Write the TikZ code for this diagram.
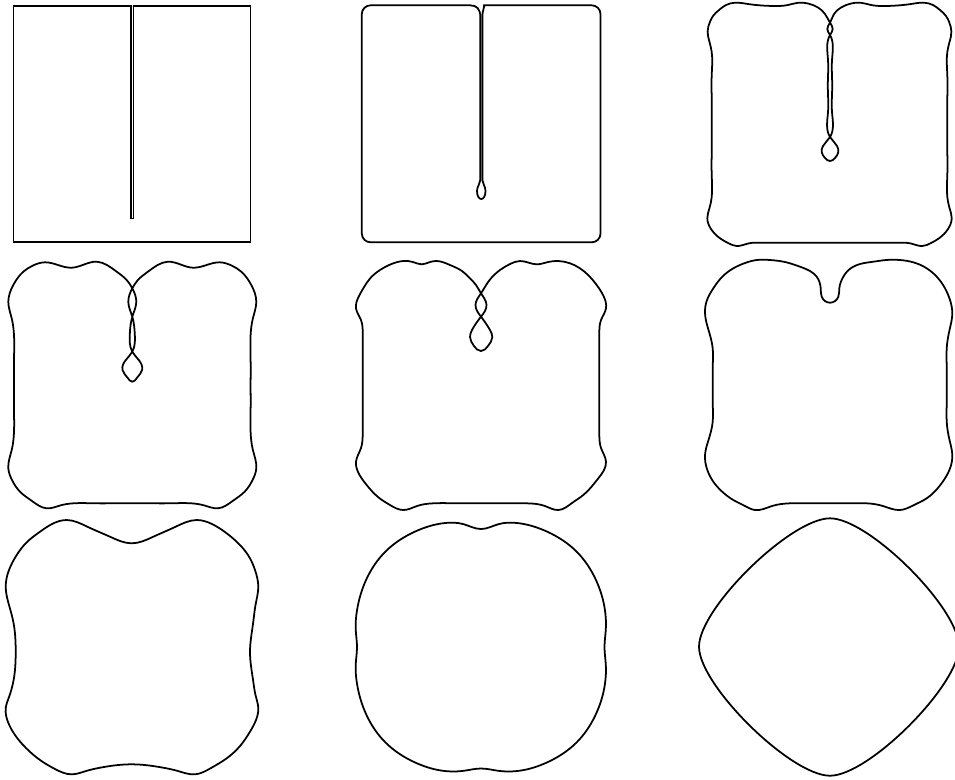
\documentclass[tikz,border=0pt]{standalone}
\usetikzlibrary{hobby}
\tikzset{
  flowcurve/.style={line width=1pt,line join=round},
  flowfrst/.style={line width=1pt,line join=miter}
}
\begin{document}
\begin{tikzpicture}[x=0.02cm,y=-0.02cm]
  \useasboundingbox (0,0) rectangle (955,779);

  % row 1
  \draw[flowfrst] (130.9,6) -- (13.5,6) -- (13.5,242.3) -- (250.5,242.3) -- (250.5,6)
    -- (133.4,6) -- (133.4,218.5) -- (130.9,218.5) -- cycle;

  \draw[flowcurve] (480.3,180) -- (480.3,17)
    .. controls (480.3,9) and (477,5.3) .. (470,5.3)
    [rounded corners=5pt] -- (361.8,5.3) -- (361.8,242.3) -- (600.5,242.3)
    -- (600.5,5.3) -- (492.5,5.3)
    [sharp corners] .. controls (485.5,5.3) and (482.4,9) .. (482.4,17)
    -- (482.4,180) .. controls (482.4,184) and (485.5,186) .. (485.5,191)
    .. controls (485.5,196) and (483.5,199) .. (481.3,199)
    .. controls (479,199) and (477,196) .. (477,191)
    .. controls (477,186) and (480.3,184) .. (480.3,180) -- cycle;

  \draw[flowcurve] plot[closed hobby] coordinates {
    (830,22.7) (832.7,29) (830,35) (828,60) (827.8,86) (828,112) (830,137)
    (837,146) (838.3,152) (835,158) (830,161) (825,158) (821.7,152) (823,146)
    (830,137) (832,112) (832.2,86) (832,60) (830,35) (827.3,29) (830,22.7)
    (834,14) (841,7.5) (851,3.5) (860.7,2.7) (871,5) (884,6) (897,5.5)
    (911,4) (924,2.7) (933,5) (940,10) (946,16) (949,21.7) (951.4,31.7)
    (949.5,42) (947.3,52) (947.3,75) (947.3,100) (947.3,125) (947.3,150)
    (947.3,175) (947.3,197) (949.5,208) (951.7,218.3) (948,229) (939,238.3)
    (931,243) (922.3,246) (911,243.5) (897,242.7) (874,242.7) (851,242.7)
    (830,242.7) (808,242.7) (785,242.7) (762,242.7) (748,243.5) (736.7,246)
    (728,243) (720,238.3) (711,229) (707.3,218.3) (709.5,208) (711.7,197)
    (711.7,175) (711.7,150) (711.7,125) (711.7,100) (711.7,75) (711.7,52)
    (709.5,42) (707.6,31.7) (710,21.7) (713,16) (719,10) (726,5) (735,2.7)
    (748,4) (762,5.5) (775,6) (788,5) (798.3,2.7) (808,3.5) (818,7.5) (825,14)};

  % row 2
  \draw[flowcurve] plot[closed hobby] coordinates {
    (132.3,288.3) (136.3,302) (132.3,316.7) (129.8,334) (132.3,351.7)
    (138.8,360) (142.1,370) (136.8,378) (132.3,381.7) (127.8,378) (122.5,370)
    (125.8,360) (132.3,351.7) (134.8,334) (132.3,316.7) (128.3,302) (132.3,288.3)
    (137.9,280) (147.9,271.7) (157.6,265) (167.9,261.7) (180.6,264.5)
    (192.9,267.7) (206.6,265) (219.6,262.3) (231.6,265.5) (241.3,271.7)
    (251.3,285) (256.3,301.7) (252.9,318.3) (250.6,335) (250.6,360)
    (250.6,385) (250.6,410) (250.6,432) (252.9,450) (256.3,468.3) (252.6,480)
    (244.6,491.7) (232.6,501) (217.9,508.3) (204.6,505.5) (191.3,503.3)
    (169.6,503.3) (149.6,503.3) (132.3,503.3) (115,503.3) (95,503.3)
    (73.3,503.3) (60,505.5) (46.7,508.3) (32,501) (20,491.7) (12,480)
    (8.3,468.3) (11.7,450) (14,432) (14,410) (14,385) (14,360) (14,335)
    (11.7,318.3) (8.3,301.7) (13.3,285) (23.3,271.7) (33,265.5) (45,262.3)
    (58,265) (71.7,267.7) (84,264.5) (96.7,261.7) (107,265) (116.7,271.7)
    (126.7,280)};

  \draw[flowcurve] plot[closed hobby] coordinates {
    (481,293.3) (486.5,305) (481,316.7) (472,330) (470,337) (474,346) (481,351)
    (488,346) (492.3,337) (490,330) (481,316.7) (475.5,305) (481,293.3)
    (488.3,281.7) (500,270) (510,264) (520,261) (536.7,264.3) (548,262)
    (558.3,261) (580,268.3) (596.7,285) (603.5,296) (606,308.3) (601,320)
    (599.3,335) (599.3,360) (599.3,385) (599.3,410) (599.3,435) (601,448)
    (606,461.7) (598.3,478.3) (583.3,495) (572,503) (558.3,510) (545,506)
    (526.7,503.3) (504,503.3) (481,503.3) (458,503.3) (433.3,503.3) (417,506)
    (403.3,510) (390,505) (378,497) (366.7,485) (358.5,473) (356,461.7)
    (361,448) (362.7,435) (362.7,410) (362.7,385) (362.7,360) (362.7,335)
    (361,320) (356,308.3) (358.5,297) (363.3,288.3) (370,278.5) (380,270)
    (391.5,264) (403.3,261) (413,262) (421.7,264.3) (430,262) (436.7,261)
    (450,265) (462,271) (470,278.3) (476,285)};

  \draw[flowcurve] plot[closed hobby] coordinates {
    (843.3,276.7) (839.3,288.3) (838.3,296.7) (830,302.7) (821.7,296.7)
    (820.7,288.3) (816.7,276.7) (810,271) (800,266.7) (785,262) (770,260)
    (756.7,260) (745,263) (733.3,268.3) (722,277) (713.3,288.3) (707,300)
    (705,313.3) (708.5,330) (712.7,348.3) (712.7,367) (712.7,385) (712.7,403)
    (712.7,421.7) (708.5,440) (705,455) (707,469) (713.3,481.7) (722,491.5)
    (733.3,500) (744,505.5) (755,510) (772,506) (790,503.3) (810,503.3)
    (830,503.3) (850,503.3) (866.7,503.3) (883,506) (900,510) (914,505)
    (926.7,498.3) (937,489) (945,478.3) (950.5,467) (952.3,455) (949.5,440)
    (946.7,421.7) (946.7,403) (946.7,385) (946.7,367) (946.7,348.3)
    (949.5,330) (952.3,313.3) (950,300) (945,288.3) (937,277) (926.7,268.3)
    (914,262.5) (900,260) (886,260) (873.3,261.7) (860,264) (853.3,266.7)
    (848,270.5)};

  % row 3
  \draw[flowcurve] plot[closed hobby] coordinates {
    (131.7,543.3) (110,536.7) (88,527) (66.7,520) (52,524) (40,531.7)
    (27,542) (16.7,555) (9,570) (5.7,586.7) (9,605) (13.3,621.7)
    (15.7,651.7) (13.3,681.7) (9,697) (5.7,708.3) (8,722) (15,735) (26,748)
    (40,760) (55,769) (71.7,774.3) (86,771) (100,767.7) (131.7,764.3)
    (163.3,767.7) (178,771) (195,774.3) (211,768) (226.7,758.3) (240,746)
    (250,731.7) (256,720) (258.3,708.3) (255.5,695) (253.3,681.7)
    (250,651.7) (253.3,621.7) (255.5,605) (258.3,586.7) (255,570)
    (250,558.3) (240,545) (226.7,533.3) (212,524) (196.7,520) (175,527)
    (153.3,536.7)};

  \draw[flowcurve] plot[closed hobby] coordinates {
    (481,529) (463.7,524.2) (443.1,523.2) (414.5,531.8) (385.5,551.5)
    (365.8,580.5) (357.2,609.1) (355.7,629.4) (357,647) (355.7,664.6)
    (357.2,684.9) (365.8,713.5) (385.5,742.5) (414.5,762.2) (443.1,770.8)
    (463.6,770.8) (481,768.5) (498.4,770.8) (518.9,770.8) (547.5,762.2)
    (576.5,742.5) (596.2,713.5) (604.8,684.9) (605.8,664.5) (604.5,647)
    (605.8,629.5) (604.8,609.1) (596.2,580.5) (576.5,551.5) (547.5,531.8)
    (518.9,523.2) (498.3,524.2)};

  \draw[flowcurve] (830,518.3) .. controls (790.7,518.3) and (699,608.2) .. (699,646.7)
    .. controls (699,685.2) and (790.7,775.7) .. (830,775.7)
    .. controls (868.7,775.7) and (959,685.4) .. (959,646.7)
    .. controls (959,608) and (868.7,518.3) .. cycle;
\end{tikzpicture}
\end{document}
